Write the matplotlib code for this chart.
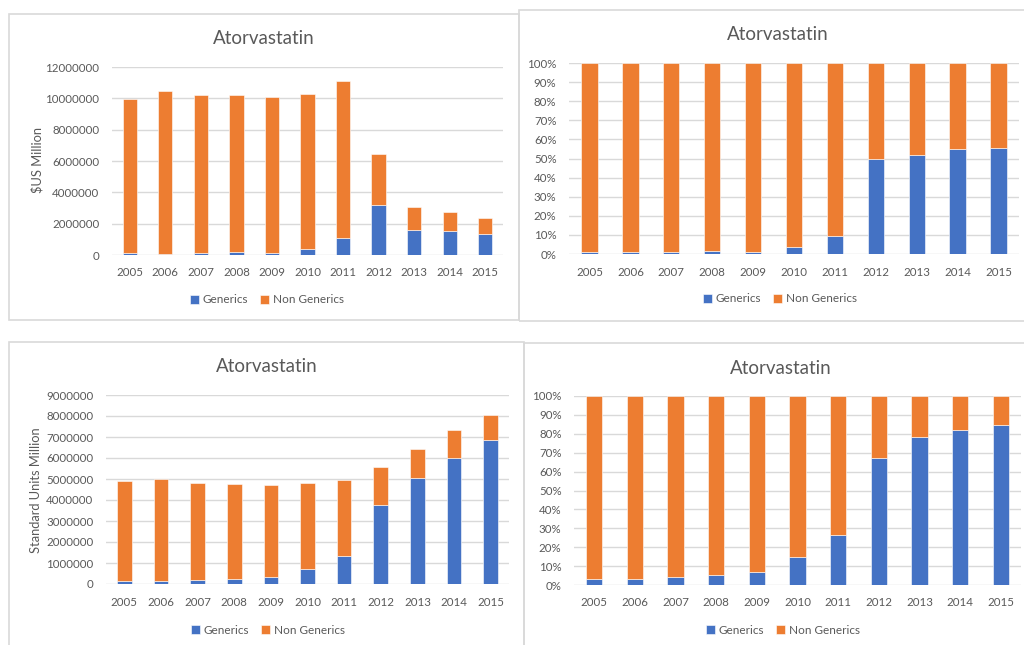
import matplotlib
matplotlib.use('Agg')
import matplotlib.pyplot as plt
from matplotlib.patches import Rectangle
from matplotlib.ticker import FuncFormatter, MultipleLocator

years = ["2005", "2006", "2007", "2008", "2009", "2010", "2011", "2012", "2013", "2014", "2015"]

# sales in $US Million
ventas_genericos = [100000, 90000, 120000, 175000, 120000, 360000, 1060000, 3200000, 1580000, 1510000, 1320000]
ventas_total = [9960000, 10450000, 10230000, 10230000, 10060000, 10280000, 11110000, 6440000, 3060000, 2740000, 2380000]

# standard units million
unidades_genericos = [150000, 155000, 195000, 245000, 320000, 720000, 1320000, 3770000, 5030000, 6020000, 6840000]
unidades_total = [4890000, 5020000, 4830000, 4760000, 4730000, 4790000, 4960000, 5590000, 6430000, 7320000, 8060000]

AZUL = "#4472C4"
NARANJA = "#ED7D31"
GRIS = "#595959"
REJILLA = "#D9D9D9"

W, H = 1024, 645
fig = plt.figure(figsize=(W / 100, H / 100), dpi=100)
plt.rcParams['font.family'] = ['Lato', 'DejaVu Sans']


def marco(x0, y0, x1, y1):
    fig.patches.append(Rectangle((x0 / W, 1 - y1 / H), (x1 - x0) / W, (y1 - y0) / H,
                                 transform=fig.transFigure, fill=False,
                                 edgecolor=REJILLA, linewidth=1.2))


def ejes(x0, y0, x1, y1):
    return fig.add_axes([x0 / W, 1 - y1 / H, (x1 - x0) / W, (y1 - y0) / H])


def graficar(ax, gen, non, ymax, paso, porcentaje, titulo_xy, leyenda_xy, ylabel=None, ylabel_xy=None):
    xs = range(len(years))
    ax.bar(xs, gen, width=0.4, color=AZUL, edgecolor="white", linewidth=0.4, label="Generics", zorder=3)
    ax.bar(xs, non, width=0.4, bottom=gen, color=NARANJA, edgecolor="white", linewidth=0.4,
           label="Non Generics", zorder=3)
    ax.set_xlim(-0.5, len(years) - 0.5)
    ax.set_ylim(0, ymax)
    ax.set_xticks(list(xs))
    ax.set_xticklabels(years)
    ax.yaxis.set_major_locator(MultipleLocator(paso))
    if porcentaje:
        ax.yaxis.set_major_formatter(FuncFormatter(lambda v, p: f"{v * 100:.0f}%"))
    else:
        ax.yaxis.set_major_formatter(FuncFormatter(lambda v, p: f"{v:.0f}"))
    ax.grid(axis="y", color=REJILLA, linewidth=1, zorder=0)
    ax.set_axisbelow(True)
    for s in ax.spines.values():
        s.set_visible(False)
    ax.tick_params(axis="both", length=0, labelsize=8.3, labelcolor=GRIS)
    ax.tick_params(axis="x", pad=9)
    ax.tick_params(axis="y", pad=9)
    fig.text(titulo_xy[0] / W, 1 - titulo_xy[1] / H, "Atorvastatin", ha="center", va="center",
             fontsize=13.5, color=GRIS)
    if ylabel:
        fig.text(ylabel_xy[0] / W, 1 - ylabel_xy[1] / H, ylabel, ha="center", va="center",
                 rotation=90, fontsize=9.3, color=GRIS)
    ax.legend(loc="center", bbox_to_anchor=(leyenda_xy[0] / W, 1 - leyenda_xy[1] / H),
              bbox_transform=fig.transFigure, ncol=2, frameon=False, fontsize=8.5,
              handlelength=0.75, handleheight=0.75, handletextpad=0.3, columnspacing=1.0,
              labelcolor=GRIS)


ventas_non = [t - g for t, g in zip(ventas_total, ventas_genericos)]
unidades_non = [t - g for t, g in zip(unidades_total, unidades_genericos)]
ventas_pct_gen = [g / t for g, t in zip(ventas_genericos, ventas_total)]
ventas_pct_non = [1 - p for p in ventas_pct_gen]
unidades_pct_gen = [g / t for g, t in zip(unidades_genericos, unidades_total)]
unidades_pct_non = [1 - p for p in unidades_pct_gen]

# frames
marco(9, 14, 519, 320)
marco(519, 10, 1030, 321)
marco(9, 342, 524, 650)
marco(524, 343, 1030, 650)

ax1 = ejes(112, 67, 503, 255)
graficar(ax1, ventas_genericos, ventas_non, 12000000, 2000000, False, (264, 39), (267, 300),
         "$US Million", (37, 160))

ax2 = ejes(569, 63, 1019, 254)
graficar(ax2, ventas_pct_gen, ventas_pct_non, 1.0, 0.1, True, (778, 34), (780, 299))

ax3 = ejes(106, 395, 509, 584)
graficar(ax3, unidades_genericos, unidades_non, 9000000, 1000000, False, (267, 367), (268, 630),
         "Standard Units Million", (36, 490))

ax4 = ejes(574, 396, 1021, 585)
graficar(ax4, unidades_pct_gen, unidades_pct_non, 1.0, 0.1, True, (781, 368), (783, 630))

fig.savefig("out.png", dpi=100)
plt.close(fig)
